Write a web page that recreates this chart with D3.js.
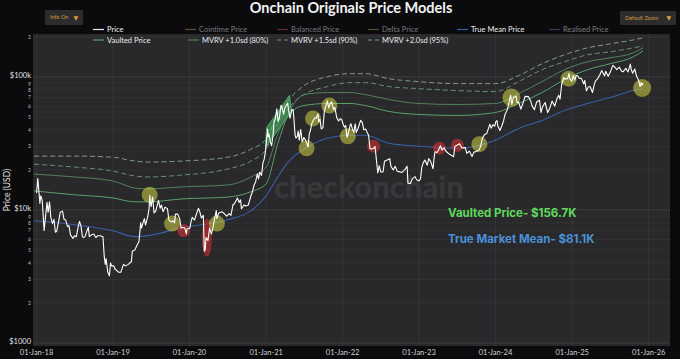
<!DOCTYPE html>
<html><head><meta charset="utf-8">
<script src="https://cdn.jsdelivr.net/npm/d3@7/dist/d3.min.js"></script>
<style>
html,body{margin:0;padding:0;background:#0b0b0e;}
svg{display:block;}
</style></head>
<body><svg id="c" width="680" height="359"></svg>
<script>
// ---------- DATA ----------
const priceDates = [
"2018-01-01","2018-01-07","2018-01-12","2018-01-17","2018-01-21","2018-01-28","2018-02-02","2018-02-06","2018-02-10","2018-02-20","2018-02-25","2018-03-04","2018-03-10","2018-03-18","2018-03-25","2018-04-01","2018-04-07","2018-04-15","2018-04-24","2018-05-05","2018-05-12","2018-05-20","2018-05-29","2018-06-05","2018-06-12","2018-06-24","2018-07-01","2018-07-10","2018-07-18","2018-07-25","2018-08-01","2018-08-08","2018-08-14","2018-08-20","2018-08-30","2018-09-05","2018-09-10","2018-09-20","2018-10-01","2018-10-11","2018-10-20","2018-11-01","2018-11-14","2018-11-20","2018-11-25","2018-11-29","2018-12-07","2018-12-15","2018-12-20","2018-12-25",
"2019-01-05","2019-01-10","2019-01-20","2019-01-28","2019-02-07","2019-02-20","2019-03-01","2019-03-15","2019-03-30","2019-04-03","2019-04-15","2019-04-25","2019-05-05","2019-05-13","2019-05-17","2019-05-25","2019-05-31","2019-06-05","2019-06-15","2019-06-22","2019-06-26","2019-06-28","2019-07-02","2019-07-09","2019-07-16","2019-07-24","2019-08-06","2019-08-14","2019-08-20","2019-08-28","2019-09-06","2019-09-18","2019-09-25","2019-10-06","2019-10-15","2019-10-22","2019-10-26","2019-11-06","2019-11-15","2019-11-22","2019-12-01","2019-12-10","2019-12-17","2019-12-20",
"2020-01-03","2020-01-08","2020-01-14","2020-01-25","2020-02-03","2020-02-13","2020-02-20","2020-02-27","2020-03-07","2020-03-12","2020-03-16","2020-03-20","2020-03-29","2020-04-06","2020-04-15","2020-04-23","2020-04-30","2020-05-08","2020-05-11","2020-05-20","2020-05-28","2020-06-03","2020-06-15","2020-06-27","2020-07-08","2020-07-17","2020-07-27","2020-08-02","2020-08-17","2020-08-25","2020-09-01","2020-09-05","2020-09-17","2020-09-25","2020-10-08","2020-10-21","2020-10-27","2020-11-05","2020-11-12","2020-11-20","2020-11-26","2020-12-01","2020-12-10","2020-12-17","2020-12-22","2020-12-27",
"2021-01-02","2021-01-08","2021-01-11","2021-01-15","2021-01-22","2021-01-27","2021-02-02","2021-02-08","2021-02-14","2021-02-21","2021-02-27","2021-03-05","2021-03-13","2021-03-19","2021-03-25","2021-04-01","2021-04-14","2021-04-18","2021-04-25","2021-05-03","2021-05-10","2021-05-13","2021-05-19","2021-05-23","2021-05-30","2021-06-03","2021-06-08","2021-06-15","2021-06-22","2021-06-30","2021-07-07","2021-07-20","2021-07-26","2021-08-01","2021-08-07","2021-08-14","2021-08-22","2021-08-28","2021-09-06","2021-09-08","2021-09-15","2021-09-21","2021-09-29","2021-10-06","2021-10-15","2021-10-20","2021-10-27","2021-11-03","2021-11-10","2021-11-18","2021-11-25","2021-12-04","2021-12-13","2021-12-22","2021-12-28",
"2022-01-05","2022-01-10","2022-01-16","2022-01-22","2022-01-28","2022-02-07","2022-02-10","2022-02-18","2022-02-24","2022-03-02","2022-03-07","2022-03-16","2022-03-28","2022-04-05","2022-04-12","2022-04-21","2022-04-30","2022-05-05","2022-05-12","2022-05-18","2022-05-28","2022-06-05","2022-06-13","2022-06-18","2022-06-25","2022-07-02","2022-07-13","2022-07-20","2022-07-30","2022-08-14","2022-08-20","2022-08-31","2022-09-09","2022-09-19","2022-09-30","2022-10-10","2022-10-25","2022-11-05","2022-11-09","2022-11-21","2022-11-30","2022-12-13","2022-12-20","2022-12-30",
"2023-01-08","2023-01-14","2023-01-21","2023-01-29","2023-02-09","2023-02-16","2023-02-25","2023-03-09","2023-03-13","2023-03-18","2023-03-28","2023-04-04","2023-04-13","2023-04-20","2023-04-30","2023-05-10","2023-05-25","2023-06-05","2023-06-15","2023-06-21","2023-07-01","2023-07-13","2023-07-25","2023-08-10","2023-08-17","2023-08-29","2023-09-11","2023-09-20","2023-10-02","2023-10-16","2023-10-23","2023-10-30","2023-11-09","2023-11-20","2023-12-05","2023-12-11","2023-12-20","2023-12-28",
"2024-01-02","2024-01-08","2024-01-12","2024-01-22","2024-02-01","2024-02-09","2024-02-15","2024-02-27","2024-03-05","2024-03-13","2024-03-19","2024-03-26","2024-04-08","2024-04-13","2024-04-20","2024-05-01","2024-05-15","2024-05-21","2024-06-06","2024-06-18","2024-06-24","2024-07-05","2024-07-15","2024-07-29","2024-08-05","2024-08-12","2024-08-25","2024-09-06","2024-09-16","2024-09-27","2024-10-10","2024-10-20","2024-10-29","2024-11-04","2024-11-12","2024-11-22","2024-11-27","2024-12-05","2024-12-10","2024-12-17","2024-12-20","2024-12-30",
"2025-01-06","2025-01-13","2025-01-20","2025-01-27","2025-02-03","2025-02-14","2025-02-25","2025-03-02","2025-03-10","2025-03-20","2025-03-28","2025-04-08","2025-04-14","2025-04-22","2025-05-02","2025-05-12","2025-05-22","2025-06-05","2025-06-10","2025-06-22","2025-07-03","2025-07-14","2025-07-25","2025-08-02","2025-08-14","2025-08-25","2025-09-01","2025-09-14","2025-09-25","2025-10-06","2025-10-10","2025-10-17","2025-10-27","2025-11-04","2025-11-14","2025-11-21","2025-11-26","2025-12-01","2025-12-05"
];
const priceValues = [
13400,17200,13900,11200,12800,11800,8900,7000,8100,11400,9600,11500,8800,7900,8500,6800,6900,8000,9600,9800,8500,8400,7500,7600,6500,6100,6400,6300,7400,8200,7600,6300,6200,6300,7000,7400,6300,6500,6600,6200,6400,6400,6300,4500,3900,4300,3400,3200,4000,3800,
3800,3600,3500,3400,3400,3900,3800,3900,4100,4900,5000,5400,5800,8000,7300,8100,8600,7700,8800,10200,12900,11500,10600,12500,9500,9800,11800,10300,10900,9700,10500,10200,8400,8100,8300,8000,9300,9300,8600,7300,7400,7300,6600,7200,
7300,8100,8800,8400,9300,10300,9600,8700,9100,4900,5000,6200,5900,7300,6600,7500,8600,9900,8600,9500,9600,9700,9400,9000,9400,9100,11000,11100,12300,11400,11900,10200,10900,10700,10900,12900,13600,15500,16300,18700,17100,19200,18200,22800,23800,26400,
32000,40600,35500,36800,32000,30400,35500,46200,48700,57500,46300,48800,61200,58100,52300,58800,63500,56200,49000,56600,56700,49700,37000,34700,35700,39200,33400,40200,32500,35000,33800,29800,37300,39900,44600,47100,49300,48900,52700,46000,48100,40700,41500,55400,61700,66000,58500,62900,64900,56900,58900,49400,46700,48600,47600,
43500,41800,43100,35100,37700,43800,44400,40000,38300,44400,38100,41100,47100,45500,40100,40500,37700,36500,28900,28700,29000,29900,22500,19000,21500,19300,19300,23200,23600,24300,21200,20000,21300,19500,19400,19100,20100,21300,15900,15800,17200,17800,16900,16500,
17100,20900,22700,23700,21700,24300,23200,20400,24100,27400,27000,28200,30400,28200,29300,27600,26300,25700,25100,30100,30600,31400,29200,29400,26600,27700,25200,27200,27500,28500,30500,34500,36700,37500,44100,41200,43700,42600,
45900,47000,42800,39500,43100,47100,52000,57000,63800,73100,62000,70000,71600,63900,64900,57200,66200,71400,71100,65200,60300,56700,64700,66800,54000,59300,64200,53900,58200,65800,60300,68400,72700,67900,88000,98900,95900,97000,96700,106100,97500,92600,
102000,94500,102300,102100,97800,97500,88700,94200,78500,84200,84400,76300,84500,93400,96600,102800,111700,101600,110200,101000,109600,122000,117600,113300,118300,110100,109200,115900,109000,124700,113000,106500,114500,101500,94500,84600,90500,86500,89500
];

const modelDates = ["2017-12-20","2018-07-01","2019-01-01","2019-04-15","2019-06-15","2019-11-25","2020-07-01","2020-10-20","2021-01-01","2021-02-25","2021-04-20","2021-07-01","2021-10-20","2022-02-05","2022-04-20","2022-08-10","2023-01-01","2023-07-01","2024-01-01","2024-04-20","2024-08-10","2024-11-25","2025-03-15","2025-07-01","2025-10-20","2025-12-05"];
const vaultedValues  = [13900,13000,12300,11500,11500,12100,12500,13700,15700,31200,52200,60900,63100,63100,60900,55000,52200,51300,54000,63100,76200,95300,113200,125500,141500,156700];
const mvrv1Values    = [18600,17700,16500,14600,14400,14900,15400,17700,21000,37000,55000,73600,76200,76200,73600,67600,63100,62000,63100,74900,92100,113200,129900,139100,151600,165200];
const mvrv15Values   = [22100,21000,19600,18000,17700,18300,20300,23300,28600,44000,58900,73600,84500,90500,90500,84500,81600,78900,77500,92100,113200,129900,146500,154200,165200,171000];
const mvrv2Values    = [25400,25400,24900,23300,22900,23300,24900,28600,34000,52200,67600,86000,100300,105700,105700,96900,92100,89000,89000,102100,125500,146500,165200,177000,189600,196300];
const trueMeanValues = [8290,7740,6980,6300,6410,7350,8440,9850,12750,17700,23300,28600,34600,36400,36400,31700,30100,29100,33400,41000,47100,55900,63100,69900,78900,81100];

const markerDates  = ["2019-06-25","2019-10-10","2019-12-05","2020-03-24","2020-05-11","2021-07-13","2021-08-13","2021-10-30","2022-01-26","2022-05-29","2023-04-08","2023-07-03","2023-10-16","2024-03-17","2024-12-15","2025-12-01"];
const markerPrices = [13000,7900,7000,6200,7900,29100,48700,60900,35800,30100,29100,30600,31200,69900,96900,82500];
const markerKinds  = ["hold","hold","sell","capit","hold","hold","hold","hold","hold","sell","sell","sell","hold","hold","hold","hold"];

const bandDates  = ["2020-12-29","2021-01-03","2021-04-22","2021-05-03"];
const bandPrices = [29500,41500,72500,55000];

const yTickValues = [1000,2000,3000,4000,5000,6000,7000,8000,9000,10000,20000,30000,40000,50000,60000,70000,80000,90000,100000,200000];
const yTickLabels = ["$1000","2","3","4","5","6","7","8","9","$10k","2","3","4","5","6","7","8","9","$100k","2"];
const xTickDates  = ["2018-01-01","2019-01-01","2020-01-01","2021-01-01","2022-01-01","2023-01-01","2024-01-01","2025-01-01","2026-01-01"];

const legendRow1 = ["Price","Cointime Price","Balanced Price","Delta Price","True Mean Price","Realised Price"];
const legendRow2 = ["Vaulted Price","MVRV +1.0sd (80%)","MVRV +1.5sd (90%)","MVRV +2.0sd (95%)"];

// ---------- CHART ----------
const parse = d3.utcParse("%Y-%m-%d");
const svg = d3.select("#c");
const L = 33, R = 670, T = 34, B = 346;
const x = d3.scaleUtc().domain([parse("2017-12-15"), parse("2026-04-13")]).range([L, R]);
const y = d3.scaleLog().domain([950, 210000]).range([B, T]);

svg.append("rect").attr("width",680).attr("height",359).attr("fill","#0b0b0e");
svg.append("rect").attr("x",L).attr("y",T).attr("width",R-L).attr("height",B-T).attr("fill","#29292b");

svg.append("defs").append("clipPath").attr("id","clip")
  .append("rect").attr("x",L).attr("y",T).attr("width",R-L).attr("height",B-T);

// grid
const grid = svg.append("g");
grid.selectAll("line.h").data(yTickValues).join("line")
  .attr("x1",L).attr("x2",R).attr("y1",d=>y(d)).attr("y2",d=>y(d))
  .attr("stroke",(d,i)=>yTickLabels[i].startsWith("$")?"#434346":"#37373a").attr("stroke-width",0.7);
grid.selectAll("line.v").data(xTickDates).join("line")
  .attr("x1",d=>x(parse(d))).attr("x2",d=>x(parse(d))).attr("y1",T).attr("y2",B)
  .attr("stroke","#3a3a3d").attr("stroke-width",0.7);

// watermark
svg.append("text").attr("x",274).attr("y",198).text("checkonchain")
  .attr("font-family","Lato, 'Open Sans', sans-serif").attr("font-weight",900).attr("font-size",31)
  .attr("fill","#38383b");

// y axis labels
const isMajor = i => yTickLabels[i].startsWith("$");
const yAx = svg.append("g");
yAx.selectAll("text").data(yTickValues).join("text")
  .attr("x",31).attr("y",(d,i)=>y(d) + (isMajor(i) ? -1.5 : (yTickLabels[i]==="9" ? 1.5 : 0)))
  .attr("dy","0.35em").attr("text-anchor","end")
  .attr("font-family","Lato, sans-serif")
  .attr("font-size",(d,i)=>isMajor(i)?7.5:5)
  .attr("fill",(d,i)=>isMajor(i)?"#e6e6e6":"#bdbdbd")
  .text((d,i)=>yTickLabels[i]);
svg.append("text").attr("transform","translate(10,190) rotate(-90)").attr("text-anchor","middle")
  .attr("font-family","Lato, sans-serif").attr("font-size",8.5).attr("fill","#e0e0e0").text("Price (USD)");

// x axis labels
const fmt = d3.utcFormat("%d-%b-%y");
svg.append("g").selectAll("text").data(xTickDates).join("text")
  .attr("x",d=>x(parse(d))).attr("y",355).attr("text-anchor","middle")
  .attr("font-family","Lato, sans-serif").attr("font-size",7.5).attr("fill","#d0d0d0")
  .text(d=>fmt(parse(d)));

const plot = svg.append("g").attr("clip-path","url(#clip)");

// green band
const bandPts = bandDates.map((d,i)=>[x(parse(d)), y(bandPrices[i])]);
plot.append("path").attr("d", d3.line().curve(d3.curveLinearClosed)(bandPts))
  .attr("fill","rgba(70,190,100,0.6)").attr("stroke","rgba(90,210,120,0.7)").attr("stroke-width",1).attr("stroke-linejoin","round");

// model lines
const mLine = vals => d3.line().curve(d3.curveMonotoneX)
  .x((d,i)=>x(parse(modelDates[i]))).y((d,i)=>y(vals[i]))(vals);
const series = [
  {v:mvrv2Values, c:"#7f9c86", dash:"5,3", w:1},
  {v:mvrv15Values, c:"#6a8f72", dash:"5,3", w:1},
  {v:mvrv1Values, c:"#52825c", dash:null, w:1},
  {v:vaultedValues, c:"#5c9f69", dash:null, w:1},
  {v:trueMeanValues, c:"#3a5ea6", dash:null, w:1.1}
];
series.forEach(s=>{
  plot.append("path").attr("d",mLine(s.v)).attr("fill","none").attr("stroke",s.c)
    .attr("stroke-width",s.w).attr("stroke-dasharray",s.dash);
});

// markers (under price)
const mk = plot.append("g");
markerDates.forEach((d,i)=>{
  const k = markerKinds[i];
  const cx = x(parse(d)), cy = y(markerPrices[i]);
  if (k==="capit") {
    mk.append("ellipse").attr("cx",cx).attr("cy",cy).attr("rx",5).attr("ry",19)
      .attr("fill","rgba(205,45,45,0.62)");
  } else {
    mk.append("circle").attr("cx",cx).attr("cy",cy)
      .attr("r", k==="sell"?6.5:((i===13||i===15)?9:8))
      .attr("fill", k==="sell"?"rgba(205,50,50,0.62)":"rgba(212,212,70,0.55)");
  }
});

// price
plot.append("path")
  .attr("d", d3.line().x((d,i)=>x(parse(priceDates[i]))).y((d,i)=>y(priceValues[i]))(priceValues))
  .attr("fill","none").attr("stroke","#ffffff").attr("stroke-width",1.1).attr("stroke-linejoin","round");

// annotations
svg.append("text").attr("x",448).attr("y",217).text("Vaulted Price- $156.7K")
  .attr("font-family","Inter, Lato, sans-serif").attr("font-weight",700).attr("font-size",11.5).attr("fill","#5ed95b");
svg.append("text").attr("x",448).attr("y",243).text("True Market Mean- $81.1K")
  .attr("font-family","Inter, Lato, sans-serif").attr("font-weight",700).attr("font-size",11.5).attr("fill","#4a90d6");

// title
svg.append("text").attr("x",351).attr("y",13).attr("text-anchor","middle")
  .attr("font-family","Lato, 'Open Sans', sans-serif").attr("font-weight",700).attr("font-size",14.5)
  .attr("fill","#f2f2f2").text("Onchain Originals Price Models");

// buttons
function button(x0,y0,w,h,label){
  svg.append("rect").attr("x",x0).attr("y",y0).attr("width",w).attr("height",h).attr("fill","#2c2c2e").attr("rx",1);
  svg.append("text").attr("x",x0+5).attr("y",y0+h/2).attr("dy","0.35em")
    .attr("font-family","Lato, sans-serif").attr("font-size",5.5).attr("fill","#d79a3c").text(label);
  svg.append("text").attr("x",x0+w-5).attr("y",y0+h/2).attr("dy","0.35em").attr("text-anchor","end")
    .attr("font-family","DejaVu Sans, sans-serif").attr("font-size",6).attr("fill","#e0a040").text("▼");
}
button(45,10,38,15,"Info On");
button(620,11,56,14,"Default Zoom");

// legend
const lg = svg.append("g").attr("font-family","Lato, sans-serif").attr("font-size",7.5);
const row1 = [
  {x:93, c:"#e8e8e8", t:"#ececec"},
  {x:185, c:"#6a4a2c", t:"#7a7a7a"},
  {x:277, c:"#5e2b2e", t:"#7a7a7a"},
  {x:368, c:"#5a4a30", t:"#7a7a7a"},
  {x:457, c:"#3a5ea6", t:"#ececec"},
  {x:549, c:"#3a3a58", t:"#7a7a7a"}
];
row1.forEach((r,i)=>{
  lg.append("line").attr("x1",r.x).attr("x2",r.x+11).attr("y1",29.5).attr("y2",29.5).attr("stroke",r.c).attr("stroke-width",1.2);
  lg.append("text").attr("x",r.x+14).attr("y",29.5).attr("dy","0.35em").attr("fill",r.t).text(legendRow1[i]);
});
const row2 = [
  {x:93, c:"#5c9f69", dash:null},
  {x:188, c:"#52825c", dash:null},
  {x:277, c:"#6a8f72", dash:"4,3"},
  {x:368, c:"#7f9c86", dash:"4,3"}
];
row2.forEach((r,i)=>{
  lg.append("line").attr("x1",r.x).attr("x2",r.x+11).attr("y1",40).attr("y2",40).attr("stroke",r.c).attr("stroke-width",1.2).attr("stroke-dasharray",r.dash);
  lg.append("text").attr("x",r.x+14).attr("y",40).attr("dy","0.35em").attr("fill","#ececec").text(legendRow2[i]);
});
</script>
</body></html>
